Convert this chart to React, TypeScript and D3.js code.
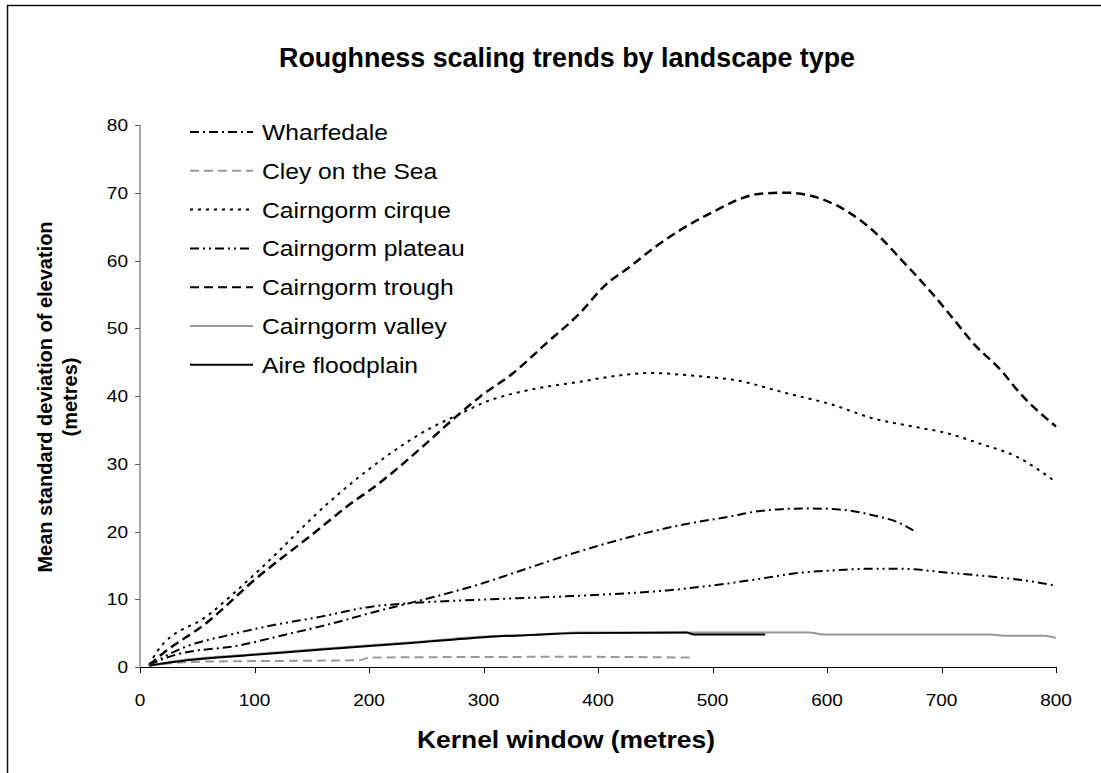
import React from 'react';
import * as d3 from 'd3';

// kernel window (m) / mean std dev (m)
const wharfedaleX = [8, 31, 87, 125, 165, 200, 230, 258, 300, 325, 375, 428, 480, 515, 536, 560, 585, 614, 640, 664, 677];
const wharfedaleY = [0.3, 1.8, 3.2, 4.7, 6.3, 7.9, 9.2, 10.4, 12.4, 13.8, 16.6, 19.2, 21.2, 22.2, 22.9, 23.3, 23.4, 23.2, 22.4, 21.2, 20.0];

const cleyX = [8, 30, 58, 125, 192, 200, 375, 479, 482];
const cleyY = [0.2, 0.6, 0.8, 0.9, 1.0, 1.4, 1.5, 1.4, 1.1];

const cirqueX = [8, 15, 60, 104, 167, 200, 253, 280, 300, 340, 384, 422, 445, 489, 518, 565, 605, 640, 675, 705, 733, 766, 800];
const cirqueY = [0.3, 2.3, 7.7, 14.3, 24.6, 29.2, 35.2, 37.4, 39.0, 40.9, 42.1, 43.1, 43.4, 42.9, 42.4, 40.4, 38.7, 36.7, 35.5, 34.5, 33.0, 31.0, 27.3];

const plateauX = [8, 40, 77, 117, 157, 202, 234, 292, 368, 426, 460, 498, 533, 576, 610, 635, 664, 707, 751, 780, 800];
const plateauY = [0.3, 3.0, 4.7, 6.2, 7.4, 8.9, 9.4, 9.9, 10.4, 10.9, 11.3, 12.0, 12.8, 13.9, 14.3, 14.5, 14.5, 13.9, 13.2, 12.6, 12.0];

const troughX = [8, 20, 58, 101, 150, 188, 200, 250, 273, 297, 326, 355, 384, 406, 428, 450, 495, 544, 565, 589, 611, 646, 665, 690, 716, 725, 754, 766, 800];
const troughY = [0.3, 2.0, 6.5, 13.0, 19.5, 24.6, 26.0, 33.0, 36.5, 39.9, 43.4, 47.8, 52.2, 56.3, 59.1, 62.0, 66.7, 69.9, 70.0, 69.4, 67.9, 63.5, 60.1, 55.5, 50.2, 48.3, 43.4, 40.9, 35.5];

const valleyX = [8, 41, 100, 159, 234, 301, 351, 382, 480, 585, 597, 742, 757, 789, 800];
const valleyY = [0.2, 1.1, 1.9, 2.7, 3.6, 4.5, 4.8, 5.1, 5.1, 5.1, 4.8, 4.8, 4.6, 4.6, 4.3];

const aireX = [8, 41, 100, 159, 234, 301, 351, 382, 477, 484, 546];
const aireY = [0.2, 1.0, 1.8, 2.6, 3.5, 4.4, 4.8, 5.0, 5.1, 4.8, 4.8];

const xTicks = [0, 100, 200, 300, 400, 500, 600, 700, 800];
const yTicks = [0, 10, 20, 30, 40, 50, 60, 70, 80];

const seriesNames = ['Wharfedale', 'Cley on the Sea', 'Cairngorm cirque', 'Cairngorm plateau', 'Cairngorm trough', 'Cairngorm valley', 'Aire floodplain'];

type Series = { name: string; xs: number[]; ys: number[]; color: string; width: number; dash: string };

const series: Series[] = [
  { name: seriesNames[0], xs: wharfedaleX, ys: wharfedaleY, color: '#000', width: 2, dash: '9,4,2,4' },
  { name: seriesNames[1], xs: cleyX, ys: cleyY, color: '#999', width: 2, dash: '9,5' },
  { name: seriesNames[2], xs: cirqueX, ys: cirqueY, color: '#000', width: 2, dash: '3,5' },
  { name: seriesNames[3], xs: plateauX, ys: plateauY, color: '#000', width: 2, dash: '9,4,2,4,2,4' },
  { name: seriesNames[4], xs: troughX, ys: troughY, color: '#000', width: 2.5, dash: '9,5' },
  { name: seriesNames[5], xs: valleyX, ys: valleyY, color: '#999', width: 2, dash: '' },
  { name: seriesNames[6], xs: aireX, ys: aireY, color: '#000', width: 2, dash: '' },
];

const W = 1101;
const H = 773;
const left = 140, right = 1056, top = 125, bottom = 667;
const font = '"Liberation Sans", Arial, sans-serif';
// the original text looks a little wider than Arial
const SX = 1.12;

function Txt(props: { x: number; y: number; size: number; anchor?: string; bold?: boolean; sx?: number; children: React.ReactNode }) {
  const { x, y, size, anchor, bold, sx, children } = props;
  return (
    <text transform={`translate(${x},${y}) scale(${sx ?? SX},1)`} textAnchor={anchor || 'start'}
      fontSize={size} fontWeight={bold ? 'bold' : 'normal'}>{children}</text>
  );
}

export default function App() {
  const x = d3.scaleLinear().domain([0, 800]).range([left, right]);
  const y = d3.scaleLinear().domain([0, 80]).range([bottom, top]);
  const line = d3.line<[number, number]>()
    .x(d => x(d[0]))
    .y(d => y(d[1]))
    .curve(d3.curveMonotoneX);

  return (
    <svg width={W} height={H} style={{ position: 'absolute', left: 0, top: 0, display: 'block', background: '#fff' }}
      fontFamily={font}>
      <rect x={7.5} y={5.5} width={W + 20} height={H + 20} fill="#fff" stroke="#111" strokeWidth={1.5} />

      <Txt x={567} y={67} size={27} anchor="middle" bold sx={0.995}>
        Roughness scaling trends by landscape type
      </Txt>

      {/* axes */}
      <line x1={left} x2={left} y1={top} y2={bottom} stroke="#555" strokeWidth={1} />
      <line x1={left} x2={right} y1={bottom + 0.5} y2={bottom + 0.5} stroke="#000" strokeWidth={1} />
      {yTicks.map(t => (
        <g key={'y' + t}>
          <line x1={left - 5} x2={left} y1={Math.round(y(t)) + 0.5} y2={Math.round(y(t)) + 0.5} stroke="#555" />
          <Txt x={128} y={y(t) + 6} size={17} anchor="end">{t}</Txt>
        </g>
      ))}
      {xTicks.map(t => (
        <g key={'x' + t}>
          <line x1={Math.round(x(t)) + 0.5} x2={Math.round(x(t)) + 0.5} y1={bottom} y2={bottom + 6} stroke="#000" />
          <Txt x={x(t)} y={706} size={17} anchor="middle">{t}</Txt>
        </g>
      ))}

      <Txt x={566} y={748} size={23} anchor="middle" bold sx={1.15}>Kernel window (metres)</Txt>
      <g transform="translate(52,397) rotate(-90)">
        <text x={0} y={0} textAnchor="middle" fontSize={20} fontWeight="bold">Mean standard deviation of elevation</text>
        <text x={0} y={25} textAnchor="middle" fontSize={20} fontWeight="bold">(metres)</text>
      </g>

      {/* series */}
      {series.map(s => (
        <path key={s.name}
          d={line(s.xs.map((v, i) => [v, s.ys[i]] as [number, number])) || ''}
          fill="none" stroke={s.color} strokeWidth={s.width} strokeDasharray={s.dash || undefined} />
      ))}

      {/* legend */}
      {series.map((s, i) => {
        const ly = 132 + i * 38.8;
        return (
          <g key={'lg' + s.name}>
            <line x1={190} x2={253} y1={ly} y2={ly} stroke={s.color} strokeWidth={2} strokeDasharray={s.dash || undefined} />
            <Txt x={262} y={ly + 8} size={22}>{s.name}</Txt>
          </g>
        );
      })}
    </svg>
  );
}
